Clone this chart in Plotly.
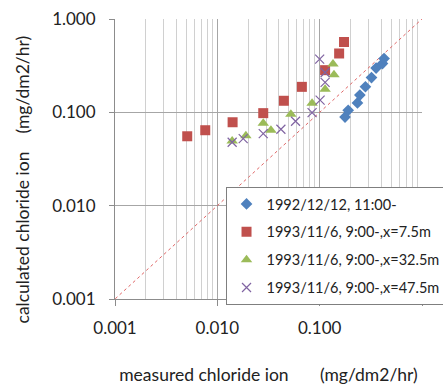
import plotly.graph_objects as go

# Data
s1_name = "1992/12/12, 11:00-"
s1_x = [0.177, 0.190, 0.234, 0.247, 0.280, 0.321, 0.356, 0.411, 0.426]
s1_y = [0.089, 0.105, 0.126, 0.153, 0.188, 0.236, 0.298, 0.333, 0.377]

s2_name = "1993/11/6, 9:00-,x=7.5m"
s2_x = [0.00508, 0.00762, 0.0141, 0.0281, 0.0447, 0.067, 0.113, 0.155, 0.173]
s2_y = [0.0554, 0.0643, 0.0783, 0.098, 0.133, 0.1875, 0.283, 0.427, 0.567]

s3_name = "1993/11/6, 9:00-,x=32.5m"
s3_x = [0.01396, 0.0190, 0.0281, 0.0334, 0.0523, 0.0843, 0.113, 0.135, 0.138]
s3_y = [0.0493, 0.0562, 0.0764, 0.0643, 0.0955, 0.125, 0.177, 0.329, 0.252]

s4_name = "1993/11/6, 9:00-,x=47.5m"
s4_x = [0.01396, 0.0179, 0.0281, 0.0418, 0.0581, 0.0843, 0.101, 0.100, 0.113, 0.113]
s4_y = [0.0478, 0.0522, 0.0591, 0.0659, 0.0803, 0.0993, 0.135, 0.372, 0.209, 0.267]

ref_x = [0.0005, 2.0]
ref_y = [0.0005, 2.0]

tick_vals = [0.001, 0.01, 0.1, 1.0]
tick_text = ["0.001", "0.010", "0.100", "1.000"]
minor_vals = [m * d for d in (0.001, 0.01, 0.1) for m in range(2, 10)]

x_title = "measured chloride ion" + "\u00a0" * 7 + "(mg/dm2/hr)"
y_title = "calculated chloride ion" + "\u00a0" * 4 + "(mg/dm2/hr)"

FONT = "Lato, 'Open Sans', sans-serif"

fig = go.Figure()
fig.add_trace(go.Scatter(x=ref_x, y=ref_y, mode="lines", showlegend=False,
                         line=dict(color="#e06666", width=1, dash="dot"), hoverinfo="skip"))
fig.add_trace(go.Scatter(x=s1_x, y=s1_y, mode="markers", name=s1_name, legendgroup="a",
                         marker=dict(symbol="diamond", size=9, color="#4f81bd")))
fig.add_trace(go.Scatter(x=s2_x, y=s2_y, mode="markers", name=s2_name, legendgroup="b",
                         marker=dict(symbol="square", size=10, color="#c0504d")))
fig.add_trace(go.Scatter(x=s3_x, y=s3_y, mode="markers", name=s3_name, legendgroup="c",
                         marker=dict(symbol="triangle-up", size=10, color="#9bbb59")))
fig.add_trace(go.Scatter(x=s4_x, y=s4_y, mode="markers", name=s4_name, legendgroup="d",
                         marker=dict(symbol="x-thin", size=9, color="#8064a2",
                                     line=dict(width=1.2, color="#8064a2"))))

fig.update_layout(
    width=443, height=387,
    margin=dict(l=115, r=21, t=19, b=88, autoexpand=False),
    paper_bgcolor="white", plot_bgcolor="white",
    font=dict(family=FONT, size=14, color="#222222"),
    legend=dict(x=0.36, y=0.40, xanchor="left", yanchor="top",
                bgcolor="white", bordercolor="#7f7f7f", borderwidth=1,
                font=dict(size=14.5, family=FONT), tracegroupgap=6, itemwidth=30),
    xaxis=dict(type="log", range=[-3, 0], tickvals=tick_vals, ticktext=tick_text,
               showline=True, linecolor="#8c8c8c", linewidth=1, mirror=False,
               ticks="outside", ticklen=6, tickcolor="#8c8c8c",
               showgrid=True, gridcolor="#a6a6a6", gridwidth=1,
               minor=dict(showgrid=True, gridcolor="#d0d0d0", gridwidth=1,
                          tickvals=minor_vals, ticks=""),
               tickfont=dict(size=17), zeroline=False, automargin=False,
               title=dict(text=x_title, font=dict(size=17.5), standoff=31)),
    yaxis=dict(type="log", range=[-3, 0], tickvals=tick_vals, ticktext=tick_text,
               showline=True, linecolor="#8c8c8c", linewidth=1,
               ticks="outside", ticklen=5, tickcolor="#8c8c8c",
               showgrid=True, gridcolor="#a6a6a6", gridwidth=1,
               tickfont=dict(size=17), zeroline=False, automargin=False),
    annotations=[dict(text=y_title, textangle=-90, showarrow=False,
                      xref="paper", yref="paper", x=-0.302, y=0.428,
                      xanchor="center", yanchor="middle",
                      font=dict(size=17.5, family=FONT, color="#222222"))],
)
fig.update_xaxes(ticklabelstandoff=8)
fig.update_yaxes(ticklabelstandoff=10)

fig.write_html("out.html", config={"displayModeBar": False},
               post_script="document.body.style.margin='0';")
